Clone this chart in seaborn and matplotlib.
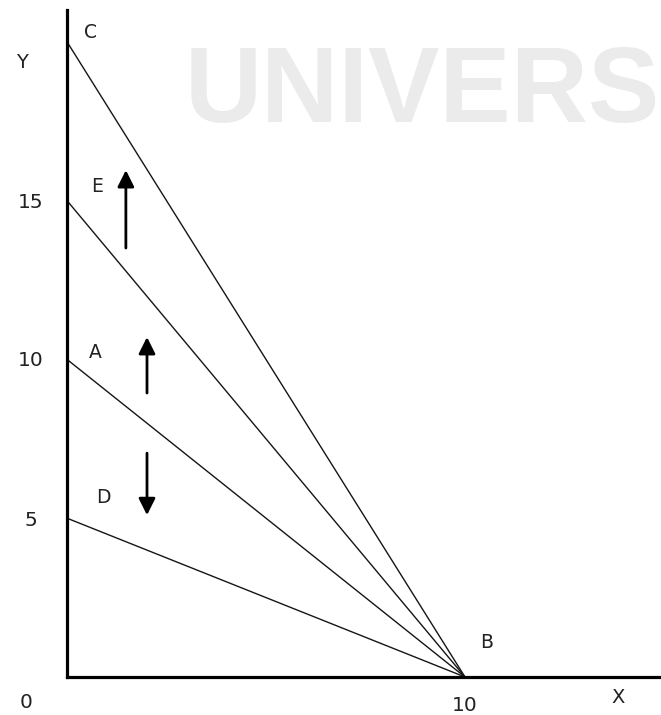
import numpy as np
import pandas as pd
import seaborn as sns
from matplotlib import pyplot as plt

sns.set_style("white")
plt.rcParams["font.family"] = ["DejaVu Sans"]

# budget lines: all share the x-intercept at B, y-intercepts
line_names = ["C", "E", "A", "D"]
y_intercepts = [20, 15, 10, 5]
x_intercept = 10

# point labels (data coords)
label_text = ["C", "E", "A", "D", "B"]
label_x = [0.59, 0.77, 0.72, 0.92, 10.55]
label_y = [20.28, 15.41, 10.22, 5.66, 1.07]

# shift arrows: x, y start, y end
arrow_x = [1.49, 2.02, 2.02]
arrow_y0 = [13.49, 8.93, 7.04]
arrow_y1 = [15.94, 10.69, 5.09]

y_ticks = [5, 10, 15]
x_ticks = [10]

rows = []
for name, b in zip(line_names, y_intercepts):
    rows.append({"line": name, "x": 0, "y": b})
    rows.append({"line": name, "x": x_intercept, "y": 0})
df = pd.DataFrame(rows)

fig = plt.figure(figsize=(6.61, 7.15), dpi=100)
ax = fig.add_axes([66.5 / 661, 38 / 715, (661 - 66.5) / 661, 667 / 715])

# faint watermark behind the plot
ax.text(185 / 661, 1 - 122 / 715, "UNIVERS", transform=fig.transFigure,
        family=["Liberation Sans"], weight="bold",
        fontsize=77, color="#ebebeb", ha="left", va="baseline",
        zorder=0, clip_on=False)

sns.lineplot(data=df, x="x", y="y", hue="line", units="line", estimator=None,
             palette=["#151515"] * len(line_names), linewidth=1.0,
             legend=False, ax=ax)

ax.set_xlim(0, (661 - 66.5) / 39.85)
ax.set_ylim(0, 667 / 31.8)

for s in ["top", "right"]:
    ax.spines[s].set_visible(False)
for s in ["left", "bottom"]:
    ax.spines[s].set_linewidth(2.3)
    ax.spines[s].set_color("black")

ax.set_yticks(y_ticks, [str(t) for t in y_ticks])
ax.set_xticks(x_ticks, [str(t) for t in x_ticks])
ax.tick_params(axis="both", length=0, labelsize=14.5, labelcolor="#222222")
ax.tick_params(axis="y", pad=26)
ax.tick_params(axis="x", pad=14)
for t in ax.get_yticklabels():
    t.set_horizontalalignment("center")
ax.set_xlabel("")
ax.set_ylabel("")

for txt, lx, ly in zip(label_text, label_x, label_y):
    ax.text(lx, ly, txt, fontsize=13.5, color="#222222",
            ha="center", va="center", clip_on=False)

ax.text(-1.12, 19.31, "Y", fontsize=14, color="#222222",
        ha="center", va="center", clip_on=False)
ax.text(13.84, -0.66, "X", fontsize=14, color="#222222",
        ha="center", va="center", clip_on=False)
ax.text(-1.02, -0.79, "0", fontsize=14.5, color="#222222",
        ha="center", va="center", clip_on=False)

for ax_x, y0, y1 in zip(arrow_x, arrow_y0, arrow_y1):
    ax.annotate("", xy=(ax_x, y1), xytext=(ax_x, y0),
                arrowprops=dict(arrowstyle="-|>,head_length=1.0,head_width=0.5",
                                mutation_scale=10, lw=2, color="black",
                                shrinkA=0, shrinkB=0))

fig.savefig("out.png", dpi=100)
